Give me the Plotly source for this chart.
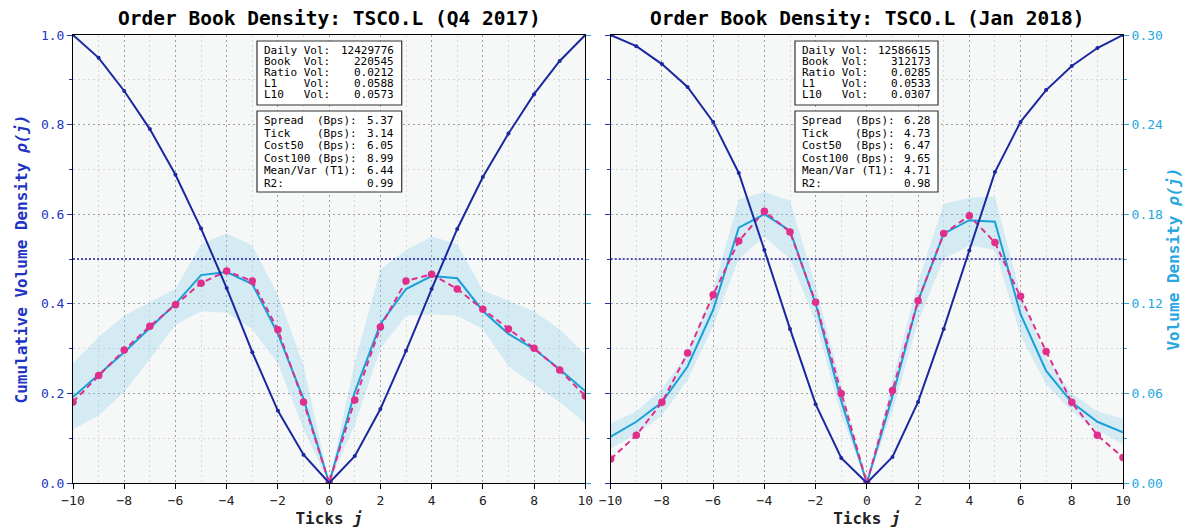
import plotly.graph_objects as go

W, H = 1195, 532
ML, MR, MT, MB = 73, 72, 35, 49
PW, PH = W - ML - MR, H - MT - MB

TICKS = list(range(-10, 11))

# Q4 2017 panel
Q4_CUM = [1.0, 0.949, 0.875, 0.790, 0.688, 0.568, 0.435, 0.292, 0.161, 0.063, 0.0,
          0.060, 0.165, 0.295, 0.433, 0.567, 0.683, 0.780, 0.868, 0.942, 1.0]
Q4_MEAN = [0.0576, 0.0723, 0.0876, 0.1038, 0.1200, 0.1392, 0.1413, 0.1332, 0.0999, 0.0563, 0.0,
           0.0609, 0.1065, 0.1299, 0.1386, 0.1371, 0.1152, 0.0999, 0.0897, 0.0762, 0.0615]
Q4_FIT = [0.0543, 0.0720, 0.0891, 0.1050, 0.1194, 0.1338, 0.1419, 0.1353, 0.1026, 0.0543, 0.0,
          0.0555, 0.1044, 0.1353, 0.1398, 0.1299, 0.1164, 0.1032, 0.0903, 0.0756, 0.0582]
Q4_UPPER = [0.080, 0.098, 0.112, 0.121, 0.130, 0.160, 0.167, 0.159, 0.126, 0.079, 0.0,
            0.081, 0.143, 0.156, 0.165, 0.160, 0.129, 0.122, 0.115, 0.103, 0.086]
Q4_LOWER = [0.036, 0.045, 0.061, 0.083, 0.106, 0.115, 0.114, 0.103, 0.080, 0.036, 0.0,
            0.039, 0.090, 0.112, 0.113, 0.112, 0.103, 0.078, 0.066, 0.054, 0.040]

# Jan 2018 panel
JAN_CUM = [1.0, 0.975, 0.935, 0.884, 0.806, 0.692, 0.520, 0.344, 0.176, 0.056, 0.0,
           0.058, 0.181, 0.344, 0.519, 0.694, 0.806, 0.877, 0.931, 0.971, 1.0]
JAN_MEAN = [0.031, 0.041, 0.054, 0.078, 0.116, 0.171, 0.180, 0.169, 0.120, 0.055, 0.0,
            0.058, 0.122, 0.167, 0.176, 0.175, 0.113, 0.075, 0.054, 0.041, 0.034]
JAN_FIT = [0.016, 0.032, 0.054, 0.087, 0.126, 0.162, 0.182, 0.168, 0.121, 0.060, 0.0,
           0.062, 0.122, 0.167, 0.179, 0.161, 0.125, 0.088, 0.054, 0.032, 0.017]
JAN_UPPER = [0.040, 0.048, 0.063, 0.087, 0.129, 0.190, 0.195, 0.189, 0.132, 0.066, 0.0,
             0.069, 0.135, 0.187, 0.191, 0.192, 0.126, 0.084, 0.060, 0.048, 0.043]
JAN_LOWER = [0.023, 0.033, 0.045, 0.069, 0.105, 0.150, 0.165, 0.150, 0.108, 0.045, 0.0,
             0.048, 0.108, 0.150, 0.159, 0.156, 0.099, 0.066, 0.048, 0.035, 0.026]

TITLES = ["Order Book Density: TSCO.L (Q4 2017)", "Order Book Density: TSCO.L (Jan 2018)"]
VOL_LABELS = ["Daily Vol:", "Book  Vol:", "Ratio Vol:", "L1    Vol:", "L10   Vol:"]
Q4_VOL = ["12429776", "220545", "0.0212", "0.0588", "0.0573"]
JAN_VOL = ["12586615", "312173", "0.0285", "0.0533", "0.0307"]
COST_LABELS = ["Spread  (Bps):", "Tick    (Bps):", "Cost50  (Bps):", "Cost100 (Bps):",
               "Mean/Var (T1):", "R2:"]
Q4_COST = ["5.37", "3.14", "6.05", "8.99", "6.44", "0.99"]
JAN_COST = ["6.28", "4.73", "6.47", "9.65", "4.71", "0.98"]

CUM_RANGE = [0, 1]
DENS_RANGE = [0, 0.3]
X_RANGE = [-10, 10]
HALF = 0.5

FONT = "DejaVu Sans Mono"
DARK = "#1a28a0"
DARK_LBL = "#2233c4"
CYAN = "#1aa0d8"
CYAN_LBL = "#27a6e2"
PINK = "#df2f8a"
BAND = "rgba(135,206,235,0.30)"
GRID = "#a0a0a0"
GRID_MINOR = "#d8d8d8"
DOTS = "2px,3px"
BG = "#f6f8f8"


def px(x):
    return (x - ML) / PW


def py(y):
    return 1 - (y - MT) / PH


X_DOMS = [[0.0, px(585.3)], [px(610.7), 1.0]]

fig = go.Figure()

panels = [
    (Q4_CUM, Q4_MEAN, Q4_FIT, Q4_UPPER, Q4_LOWER, "x", "y", "y2"),
    (JAN_CUM, JAN_MEAN, JAN_FIT, JAN_UPPER, JAN_LOWER, "x2", "y3", "y4"),
]

for cum, mean, fit, up, lo, xa, ydens, ycum in panels:
    fig.add_trace(go.Scatter(x=TICKS, y=lo, xaxis=xa, yaxis=ydens, mode="lines",
                             line=dict(width=0, color=BAND), showlegend=False, hoverinfo="skip"))
    fig.add_trace(go.Scatter(x=TICKS, y=up, xaxis=xa, yaxis=ydens, mode="lines",
                             line=dict(width=0, color=BAND), fill="tonexty", fillcolor=BAND,
                             showlegend=False, hoverinfo="skip"))
    fig.add_trace(go.Scatter(x=TICKS, y=mean, xaxis=xa, yaxis=ydens, mode="lines",
                             line=dict(width=2, color=CYAN), showlegend=False))
    fig.add_trace(go.Scatter(x=TICKS, y=fit, xaxis=xa, yaxis=ydens, mode="lines+markers",
                             line=dict(width=2, color=PINK, dash="6px,4px"),
                             marker=dict(size=7.5, color=PINK), showlegend=False))
    fig.add_trace(go.Scatter(x=TICKS, y=cum, xaxis=xa, yaxis=ycum, mode="lines+markers",
                             line=dict(width=2, color=DARK),
                             marker=dict(size=4, color=DARK), showlegend=False))

xcommon = dict(range=X_RANGE, dtick=2, ticks="outside", ticklen=5, tickcolor="black",
               showline=True, mirror=True, linecolor="black", linewidth=1,
               showgrid=True, gridcolor=GRID, griddash=DOTS, gridwidth=1,
               zeroline=False, automargin=False,
               minor=dict(dtick=1, showgrid=True, gridcolor=GRID_MINOR, griddash=DOTS,
                          ticks=""),
               tickfont=dict(family=FONT, size=13, color="#222222"),
               title=dict(text="<b>Ticks <i>j</i></b>", font=dict(family=FONT, size=16, color="#222222"),
                          standoff=6))

dens_common = dict(range=DENS_RANGE, dtick=0.06, tickformat=".2f", side="right",
                   ticks="outside", ticklen=5, tickcolor=CYAN_LBL,
                   showline=True, linecolor="black", linewidth=1,
                   showgrid=False, zeroline=False, automargin=False,
                   minor=dict(dtick=0.03, ticks="outside", ticklen=3, tickcolor=CYAN_LBL, showgrid=False),
                   tickfont=dict(family=FONT, size=13, color=CYAN_LBL))

cum_common = dict(range=CUM_RANGE, dtick=0.2, tickformat=".1f", side="left",
                  ticks="outside", ticklen=5, tickcolor=DARK_LBL,
                  showline=True, linecolor="black", linewidth=1,
                  showgrid=True, gridcolor=GRID, griddash=DOTS, zeroline=False, automargin=False,
                  minor=dict(dtick=0.1, ticks="outside", ticklen=3, tickcolor=DARK_LBL,
                             showgrid=True, gridcolor=GRID_MINOR, griddash=DOTS),
                  tickfont=dict(family=FONT, size=13, color=DARK_LBL))

fig.update_layout(
    width=W, height=H,
    margin=dict(l=ML, r=MR, t=MT, b=MB),
    paper_bgcolor="white", plot_bgcolor=BG,
    xaxis=dict(domain=X_DOMS[0], anchor="y", **xcommon),
    xaxis2=dict(domain=X_DOMS[1], anchor="y3", **xcommon),
    yaxis=dict(domain=[0, 1], anchor="x", showticklabels=False, **dens_common),
    yaxis2=dict(anchor="x", overlaying="y", showticklabels=True,
                title=dict(text="<b>Cumulative Volume Density <i>ρ(j)</i></b>",
                           font=dict(family=FONT, size=16, color=DARK_LBL), standoff=9),
                **cum_common),
    yaxis3=dict(domain=[0, 1], anchor="x2", showticklabels=True,
                title=dict(text="<b>Volume Density <i>ρ(j)</i></b>",
                           font=dict(family=FONT, size=16, color=CYAN_LBL), standoff=5),
                **dens_common),
    yaxis4=dict(anchor="x2", overlaying="y3", showticklabels=False, **cum_common),
)

# reference line at half cumulative density
for xa, ya in [("x", "y2"), ("x2", "y4")]:
    fig.add_shape(type="line", xref=f"{xa} domain", yref=ya, x0=0, x1=1, y0=HALF, y1=HALF,
                  line=dict(color="#1a1a9a", width=1.3, dash="2px,2px"))

# titles
for i, t in enumerate(TITLES):
    fig.add_annotation(text=f"<b>{t}</b>", xref="paper", yref="paper",
                       x=(X_DOMS[i][0] + X_DOMS[i][1]) / 2, y=py(19), xanchor="center",
                       yanchor="middle", showarrow=False,
                       font=dict(family=FONT, size=19.5, color="black"))

# stats boxes
boxes = [
    (257, 401.7, 262.3, 395.5, Q4_VOL, Q4_COST),
    (795, 938, 799.5, 933, JAN_VOL, JAN_COST),
]
vol_rows = [50, 61.2, 72.4, 83.6, 94.8]
cost_rows = [120.7, 133.2, 145.7, 158.2, 170.7, 183.2]
TXT = dict(family=FONT, size=11, color="black")
for bx0, bx1, tx0, tx1, vols, costs in boxes:
    for (y0, y1) in [(41, 105), (111, 192)]:
        fig.add_shape(type="rect", xref="paper", yref="paper", x0=px(bx0), x1=px(bx1),
                      y0=py(y0), y1=py(y1), line=dict(color="#333333", width=1.2),
                      fillcolor="white", layer="above")
    for rows, labels, vals in [(vol_rows, VOL_LABELS, vols), (cost_rows, COST_LABELS, costs)]:
        for ry, lab, val in zip(rows, labels, vals):
            fig.add_annotation(text=lab.replace(" ", "\u00a0"), xref="paper", yref="paper",
                               x=px(tx0), y=py(ry), xanchor="left", yanchor="middle",
                               showarrow=False, font=TXT)
            fig.add_annotation(text=val, xref="paper", yref="paper",
                               x=px(tx1), y=py(ry), xanchor="right", yanchor="middle",
                               showarrow=False, font=TXT)

fig.write_html("out.html", config={"displayModeBar": False},
               post_script="document.body.style.margin='0';document.body.style.overflow='hidden';")
